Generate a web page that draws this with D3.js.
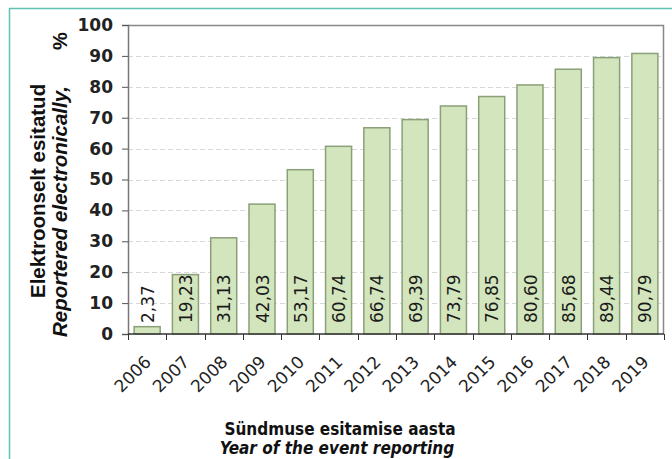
<!DOCTYPE html>
<html>
<head>
<meta charset="utf-8">
<script src="https://cdn.jsdelivr.net/npm/d3@7"></script>
<style>
  body { margin: 0; background: #fff; }
  svg { display: block; }
</style>
</head>
<body>
<svg id="chart" width="672" height="459"></svg>
<script>
// data
const years = ['2006', '2007', '2008', '2009', '2010', '2011', '2012', '2013', '2014', '2015', '2016', '2017', '2018', '2019']
const shares = [2.37, 19.23, 31.13, 42.03, 53.17, 60.74, 66.74, 69.39, 73.79, 76.85, 80.60, 85.68, 89.44, 90.79]
const yTicks = [0, 10, 20, 30, 40, 50, 60, 70, 80, 90, 100]

const svg = d3.select('#chart')
const margin = {left: 128, top: 25, right: 8, bottom: 125}
const width = 672 - margin.left - margin.right
const height = 459 - margin.top - margin.bottom

// teal outer frame (only top and left are visible)
svg.append('line').attr('x1', 9).attr('x2', 672).attr('y1', 8.5).attr('y2', 8.5)
  .attr('stroke', '#5fc2b4').attr('stroke-width', 1.5)
svg.append('line').attr('x1', 9.5).attr('x2', 9.5).attr('y1', 8).attr('y2', 459)
  .attr('stroke', '#5fc2b4').attr('stroke-width', 1.5)

const chart = svg.append('g')
  .attr('transform', `translate(${margin.left}, ${margin.top})`)

const xScale = d3.scaleBand()
  .range([0, width])
  .domain(years)
  .paddingInner(0.32)
  .paddingOuter(0.16)

const yScale = d3.scaleLinear()
  .range([height, 0])
  .domain([0, 100])

// grid
chart.append('g')
  .selectAll('line')
  .data(yTicks.filter(d => d > 0 && d < 100))
  .enter()
  .append('line')
  .attr('x1', 0)
  .attr('x2', width)
  .attr('y1', d => Math.round(yScale(d)) + 0.5)
  .attr('y2', d => Math.round(yScale(d)) + 0.5)
  .attr('stroke', '#d8d8d8')
  .attr('stroke-dasharray', '5,3')

// plot frame top / right
chart.append('path')
  .attr('d', `M0,0.5H${width - 0.5}V${height}`)
  .attr('fill', 'none')
  .attr('stroke', '#888')
  .attr('stroke-width', 1.5)

// bars
const barGroups = chart.selectAll('.bar')
  .data(years.map((y, i) => ({year: y, value: shares[i]})))
  .enter()
  .append('g')

barGroups.append('rect')
  .attr('x', d => xScale(d.year))
  .attr('y', d => yScale(d.value))
  .attr('width', xScale.bandwidth())
  .attr('height', d => height - yScale(d.value))
  .attr('fill', '#d3e5bd')
  .attr('stroke', '#8aa079')
  .attr('stroke-width', 1.5)

barGroups.append('text')
  .attr('transform', d => `translate(${xScale(d.year) + xScale.bandwidth() / 2 + 6.5}, ${height - 11}) rotate(-90)`)
  .attr('font-family', 'DejaVu Sans')
  .attr('font-size', 17)
  .attr('fill', '#1a1a1a')
  .text(d => d.value.toFixed(2).replace('.', ','))

// y axis
const yAxis = chart.append('g')
  .call(d3.axisLeft(yScale).tickValues(yTicks).tickSize(6).tickPadding(9))
yAxis.select('.domain').attr('stroke', '#777').attr('stroke-width', 1.5)
yAxis.selectAll('.tick line').attr('stroke', '#555')
yAxis.selectAll('text')
  .attr('font-family', 'DejaVu Sans')
  .attr('font-weight', 'bold')
  .attr('font-size', 17)
  .attr('fill', '#222')

// x axis: ticks on category boundaries, labels at bar centres
const xAxis = chart.append('g')
  .attr('transform', `translate(0, ${height})`)
xAxis.append('line')
  .attr('x1', 0).attr('x2', width)
  .attr('y1', 0).attr('y2', 0)
  .attr('stroke', '#333').attr('stroke-width', 1.5)
const step = xScale.step()
xAxis.selectAll('.xtick')
  .data(d3.range(years.length + 1))
  .enter()
  .append('line')
  .attr('x1', i => Math.round(xScale(years[0]) - xScale.paddingOuter() * step + i * step) + 0.5)
  .attr('x2', i => Math.round(xScale(years[0]) - xScale.paddingOuter() * step + i * step) + 0.5)
  .attr('y1', 0).attr('y2', 6)
  .attr('stroke', '#333')
xAxis.selectAll('.xlabel')
  .data(years)
  .enter()
  .append('text')
  .attr('transform', d => `translate(${xScale(d) + xScale.bandwidth() / 2 + 5}, 29) rotate(-45)`)
  .attr('text-anchor', 'end')
  .attr('font-family', 'DejaVu Sans')
  .attr('font-size', 17)
  .attr('fill', '#222')
  .text(d => d)

// x title
svg.append('text')
  .attr('x', 340).attr('y', 435)
  .attr('text-anchor', 'middle')
  .attr('font-family', 'DejaVu Sans Condensed')
  .attr('font-weight', 'bold')
  .attr('font-size', 17)
  .attr('fill', '#111')
  .text('Sündmuse esitamise aasta')
svg.append('text')
  .attr('x', 337).attr('y', 454)
  .attr('text-anchor', 'middle')
  .attr('font-family', 'DejaVu Sans Condensed')
  .attr('font-weight', 'bold')
  .attr('font-style', 'italic')
  .attr('font-size', 17)
  .attr('fill', '#111')
  .text('Year of the event reporting')

// y title
svg.append('text')
  .attr('transform', 'translate(45, 298) rotate(-90)')
  .attr('text-anchor', 'start')
  .attr('font-family', 'Liberation Sans')
  .attr('font-weight', 'bold')
  .attr('font-size', 20.5)
  .attr('fill', '#111')
  .text('Elektroonselt esitatud')
svg.append('text')
  .attr('transform', 'translate(67, 337) rotate(-90)')
  .attr('text-anchor', 'start')
  .attr('font-family', 'Liberation Sans')
  .attr('font-weight', 'bold')
  .attr('font-style', 'italic')
  .attr('font-size', 20.5)
  .attr('fill', '#111')
  .text('Reportered electronically,')
svg.append('text')
  .attr('transform', 'translate(67, 41) rotate(-90)')
  .attr('text-anchor', 'middle')
  .attr('font-family', 'Liberation Sans')
  .attr('font-weight', 'bold')
  .attr('font-size', 20)
  .attr('fill', '#111')
  .text('%')
</script>
</body>
</html>
